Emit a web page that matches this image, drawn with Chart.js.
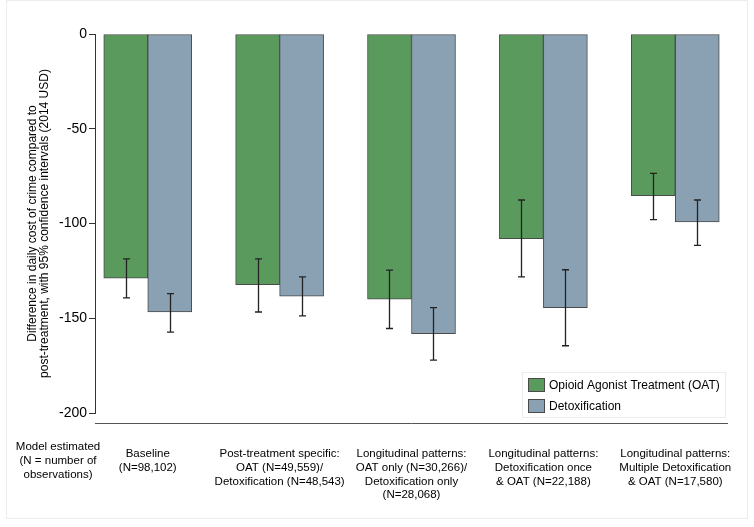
<!DOCTYPE html>
<html>
<head>
<meta charset="utf-8">
<script src="https://cdn.jsdelivr.net/npm/chart.js@4"></script>
<style>
  html, body { margin: 0; padding: 0; background: #fff; }
  #wrap { width: 754px; height: 527px; }
</style>
</head>
<body>
<div id="wrap"><canvas id="crimecost" width="754" height="527"></canvas></div>
<script>
// categories (x tick labels, one array of lines per model)
var models = [
  ["Baseline", "(N=98,102)"],
  ["Post-treatment specific:", "OAT (N=49,559)/", "Detoxification (N=48,543)"],
  ["Longitudinal patterns:", "OAT only (N=30,266)/", "Detoxification only", "(N=28,068)"],
  ["Longitudinal patterns:", "Detoxification once", "& OAT (N=22,188)"],
  ["Longitudinal patterns:", "Multiple Detoxification", "& OAT (N=17,580)"]
];
var modelHeader = ["Model estimated", "(N = number of", "observations)"];

// OAT estimates and 95% CI
var oatMean = [-128.8, -132.3, -139.9, -108.0, -85.3];
var oatLow  = [-139.2, -146.7, -155.4, -128.2, -98.0];
var oatHigh = [-118.7, -118.7, -124.6, -87.6, -73.5];

// Detoxification estimates and 95% CI
var detoxMean = [-146.7, -138.3, -158.2, -144.4, -99.2];
var detoxLow  = [-157.3, -148.7, -172.1, -164.5, -111.5];
var detoxHigh = [-137.0, -128.2, -144.4, -124.4, -87.6];

var yTicks = [0, -50, -100, -150, -200];

var FONT = "'Liberation Sans', Arial, sans-serif";
var green = "#5a9a5d";
var blue = "#8aa1b3";
var edge = "#4a4a4a";

function points(vals) {
  return vals.map(function (v, i) { return { x: i + 1, y: v }; });
}

// draws the CI whiskers, the detached x axis line, the model header and the legend
var extras = {
  id: 'extras',
  afterDatasetsDraw: function (chart) {
    var ctx = chart.ctx;
    var ys = chart.scales.y;
    var area = chart.chartArea;
    var ci = [[oatLow, oatHigh], [detoxLow, detoxHigh]];

    ctx.save();
    ctx.strokeStyle = "#222";
    ctx.lineWidth = 1.3;
    ci.forEach(function (pair, d) {
      var meta = chart.getDatasetMeta(d);
      meta.data.forEach(function (bar, i) {
        var x = Math.round(bar.x) + 0.5;
        var y1 = ys.getPixelForValue(pair[0][i]);
        var y2 = ys.getPixelForValue(pair[1][i]);
        ctx.beginPath();
        ctx.moveTo(x, y1); ctx.lineTo(x, y2);
        ctx.moveTo(x - 3.5, y1); ctx.lineTo(x + 3.5, y1);
        ctx.moveTo(x - 3.5, y2); ctx.lineTo(x + 3.5, y2);
        ctx.stroke();
      });
    });

    // x axis line, set apart from the y axis
    ctx.strokeStyle = "#555";
    ctx.lineWidth = 1;
    ctx.beginPath();
    ctx.moveTo(area.left, area.bottom + 10.5);
    ctx.lineTo(area.right, area.bottom + 10.5);
    ctx.stroke();

    // faint frame
    ctx.strokeStyle = "#ececec";
    ctx.strokeRect(6.5, 0.5, 741, 518);

    // model header at left of the category labels
    ctx.fillStyle = "#000";
    ctx.font = "11.5px " + FONT;
    ctx.textAlign = "center";
    ctx.textBaseline = "middle";
    modelHeader.forEach(function (line, k) {
      ctx.fillText(line, 58, area.bottom + 34 + k * 14);
    });

    // legend box
    var lx = area.right - 206, ly = area.bottom - 41;
    ctx.font = "12px " + FONT;
    ctx.strokeStyle = "#ececec";
    ctx.strokeRect(lx + 0.5, ly + 0.5, 203, 45);
    ctx.textAlign = "left";
    chart.data.datasets.forEach(function (ds, k) {
      var by = ly + 6 + k * 21;
      ctx.fillStyle = ds.backgroundColor;
      ctx.fillRect(lx + 6, by, 17, 14);
      ctx.strokeStyle = edge;
      ctx.strokeRect(lx + 6.5, by + 0.5, 16, 13);
      ctx.fillStyle = "#000";
      ctx.fillText(ds.label, lx + 27, by + 7.5);
    });
    ctx.restore();
  }
};

new Chart(document.getElementById("crimecost"), {
  type: 'bar',
  data: {
    datasets: [{
      label: 'Opioid Agonist Treatment (OAT)',
      data: points(oatMean),
      backgroundColor: green,
      borderColor: edge,
      borderWidth: 1,
      borderSkipped: false
    }, {
      label: 'Detoxification',
      data: points(detoxMean),
      backgroundColor: blue,
      borderColor: edge,
      borderWidth: 1,
      borderSkipped: false
    }]
  },
  options: {
    responsive: false,
    animation: false,
    barThickness: 44,
    layout: { padding: { top: 34, right: 26, bottom: 0, left: 0 } },
    plugins: {
      legend: { display: false },
      tooltip: { enabled: false }
    },
    scales: {
      x: {
        type: 'linear',
        offset: false,
        min: 0.6,
        max: 5.4,
        grid: { display: false, offset: false },
        border: { display: false },
        afterBuildTicks: function (scale) {
          scale.ticks = models.map(function (m, i) { return { value: i + 1 }; });
        },
        afterFit: function (scale) {
          scale.height = 114;
          scale.paddingLeft = 0;
          scale.paddingRight = 0;
        },
        ticks: {
          autoSkip: false,
          maxRotation: 0,
          minRotation: 0,
          padding: 26,
          color: "#000",
          font: { family: FONT, size: 11.5, lineHeight: 1.2 },
          callback: function (value) { return models[value - 1]; }
        }
      },
      y: {
        min: -200,
        max: 0,
        afterBuildTicks: function (scale) {
          scale.ticks = yTicks.map(function (v) { return { value: v }; });
        },
        afterFit: function (scale) { scale.width = 95; },
        border: { display: true, color: "#333", width: 1 },
        grid: { drawOnChartArea: false, drawTicks: true, tickLength: 6, tickColor: "#333" },
        ticks: {
          padding: 2,
          color: "#000",
          font: { family: FONT, size: 14 }
        },
        title: {
          display: true,
          text: ["Difference in daily cost of crime compared to",
                 "post-treatment, with 95% confidence intervals (2014 USD)"],
          color: "#000",
          font: { family: FONT, size: 12, lineHeight: 1.0 },
          padding: { top: 27, bottom: 0 }
        }
      }
    }
  },
  plugins: [extras]
});
</script>
</body>
</html>
